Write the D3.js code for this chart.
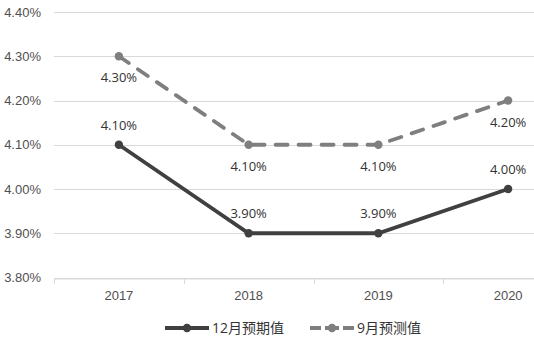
<!DOCTYPE html>
<html>
<head>
<meta charset="utf-8">
<script src="https://cdn.jsdelivr.net/npm/d3@7"></script>
<style>
  html, body { margin: 0; padding: 0; background: #fff; }
  svg { display: block; font-family: "Open Sans", "Noto Sans CJK SC", sans-serif; }
</style>
</head>
<body>
<svg id="chart" width="534" height="342"></svg>
<script>
// Forecast data (percent)
const years = ["2017", "2018", "2019", "2020"];
const decForecast = [4.10, 3.90, 3.90, 4.00];   // 12月预期值
const sepForecast = [4.30, 4.10, 4.10, 4.20];   // 9月预测值
const yTicks = [3.80, 3.90, 4.00, 4.10, 4.20, 4.30, 4.40];
const seriesNames = ["12月预期值", "9月预测值"];

const svg = d3.select("#chart");
const margin = { left: 54, top: 12, bottom: 65 };
const plotRight = 573;   // plot area runs past the right edge of the canvas
const plotBottom = 342 - margin.bottom;

const x = d3.scaleBand().domain(years).range([margin.left, plotRight]).paddingInner(0).paddingOuter(0);
const y = d3.scaleLinear().domain([3.80, 4.40]).range([plotBottom + 0.5, margin.top]);
const cx = d => x(d) + x.bandwidth() / 2;

// Horizontal gridlines
svg.append("g")
  .selectAll("line")
  .data(yTicks)
  .join("line")
  .attr("x1", margin.left).attr("x2", plotRight)
  .attr("y1", d => Math.round(y(d)) + 0.5).attr("y2", d => Math.round(y(d)) + 0.5)
  .attr("stroke", "#d9d9d9").attr("stroke-width", 1);

// Y axis labels
const yAxis = d3.axisLeft(y).tickValues(yTicks).tickSize(0).tickPadding(0)
  .tickFormat(d => d.toFixed(2) + "%");
svg.append("g")
  .attr("transform", `translate(${margin.left - 13},0)`)
  .call(yAxis)
  .call(g => g.select(".domain").remove())
  .call(g => g.selectAll("text").attr("fill", "#505050").attr("font-size", 13));

// X axis with category boundary ticks
const xAxis = d3.axisBottom(x).tickSize(0).tickPadding(12);
svg.append("g")
  .attr("transform", `translate(0,${Math.round(y(3.80)) + 0.5})`)
  .call(xAxis)
  .call(g => g.select(".domain").attr("stroke", "#d9d9d9"))
  .call(g => g.selectAll("text").attr("fill", "#505050").attr("font-size", 13));
svg.append("g")
  .selectAll("line")
  .data(years)
  .join("line")
  .attr("x1", d => Math.round(x(d)) + 0.5).attr("x2", d => Math.round(x(d)) + 0.5)
  .attr("y1", Math.round(y(3.80)) + 0.5).attr("y2", Math.round(y(3.80)) + 6)
  .attr("stroke", "#d9d9d9");

const line = d3.line().x((d, i) => cx(years[i])).y(d => y(d));

const series = [
  { name: seriesNames[0], values: decForecast, color: "#404040", dash: null, labelDy: -15 },
  { name: seriesNames[1], values: sepForecast, color: "#7f7f7f", dash: "12,11", labelDy: 26 }
];

series.forEach(s => {
  svg.append("path")
    .datum(s.values)
    .attr("d", line)
    .attr("fill", "none")
    .attr("stroke", s.color)
    .attr("stroke-width", 3.8)
    .attr("stroke-linecap", s.dash ? "round" : "butt")
    .attr("stroke-dasharray", s.dash);

  svg.append("g")
    .selectAll("circle")
    .data(s.values)
    .join("circle")
    .attr("cx", (d, i) => cx(years[i]))
    .attr("cy", d => y(d))
    .attr("r", 4.2)
    .attr("fill", s.color);

  svg.append("g")
    .selectAll("text")
    .data(s.values)
    .join("text")
    .attr("x", (d, i) => cx(years[i]))
    .attr("y", d => y(d) + s.labelDy)
    .attr("text-anchor", "middle")
    .attr("font-size", 13)
    .attr("fill", "#333")
    .text(d => d.toFixed(2) + "%");
});

// Legend
const legend = svg.append("g").attr("transform", "translate(0,328)");
const legendItems = [
  { x: 165, s: series[0] },
  { x: 310, s: series[1] }
];
legendItems.forEach(({ x: lx, s }) => {
  const g = legend.append("g").attr("transform", `translate(${lx},0)`);
  g.append("line")
    .attr("x1", 0).attr("x2", 44).attr("y1", 0).attr("y2", 0)
    .attr("stroke", s.color).attr("stroke-width", 3.8)
    .attr("stroke-dasharray", s.dash ? "11,4,14,4,11" : null);
  g.append("circle").attr("cx", 22).attr("cy", 0).attr("r", 4.2).attr("fill", s.color);
  g.append("text")
    .attr("x", 47).attr("y", 0).attr("dy", "0.35em")
    .attr("font-size", 14).attr("fill", "#333")
    .text(s.name);
});
</script>
</body>
</html>
